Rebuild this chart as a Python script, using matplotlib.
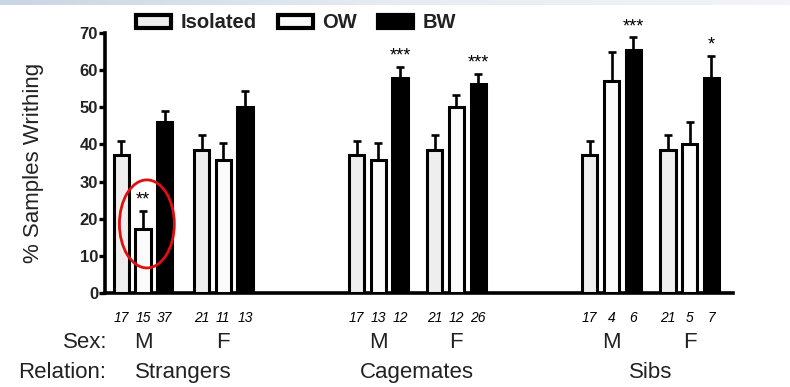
import matplotlib
matplotlib.use("Agg")
import matplotlib.pyplot as plt
import numpy as np
from matplotlib.patches import Ellipse
from matplotlib.colors import LinearSegmentedColormap

plt.rcParams['font.family'] = ['Liberation Sans', 'DejaVu Sans']

# ---- data ----
relations = ["Strangers", "Cagemates", "Sibs"]
sexes = ["M", "F", "M", "F", "M", "F"]
series = ["Isolated", "OW", "BW"]
iso_vals = [37.2, 38.5, 37.2, 38.5, 37.2, 38.5]
iso_err = [3.8, 4.1, 3.8, 4.1, 3.8, 4.1]
ow_vals = [17.2, 35.7, 35.7, 50.0, 57.0, 40.1]
ow_err = [5.0, 4.8, 4.8, 3.4, 7.9, 5.9]
bw_vals = [46.0, 50.0, 58.0, 56.3, 65.3, 58.0]
bw_err = [2.9, 4.5, 2.8, 2.7, 3.5, 5.9]
iso_n = [17, 21, 17, 21, 17, 21]
ow_n = [15, 11, 13, 12, 4, 5]
bw_n = [37, 13, 12, 26, 6, 7]
# significance marks: (group index, series index, label)
sig_marks = [(0, 1, "**"), (2, 2, "***"), (3, 2, "***"), (4, 2, "***"), (5, 2, "*")]
yticks = [0, 10, 20, 30, 40, 50, 60, 70]

# ---- layout ----
group_centers = np.array([0, 3.7, 10.85, 14.45, 21.6, 25.2])
offsets = [-1.0, 0.0, 1.0]
bar_w = 0.70
fills = ["#eeeeee", "#fbfbfb", "black"]

fig = plt.figure(figsize=(7.9, 3.87), dpi=100)
ax = fig.add_axes([105/790, 1-293/387, (733-105)/790, 260/387])

vals_all = [iso_vals, ow_vals, bw_vals]
errs_all = [iso_err, ow_err, bw_err]
ns_all = [iso_n, ow_n, bw_n]
containers = []
for k in range(3):
    xs = group_centers + offsets[k]
    c = ax.bar(xs, vals_all[k], width=bar_w, color=fills[k], edgecolor="black",
               linewidth=2.2, label=series[k], zorder=3)
    containers.append(c)
    ax.errorbar(xs, vals_all[k], yerr=[np.zeros(6), errs_all[k]], fmt="none",
                ecolor="black", elinewidth=1.9, capsize=3, capthick=1.9, zorder=2)

ax.set_xlim(-1.75, 27.2)
ax.set_ylim(0, 70)
ax.set_yticks(yticks)
ax.set_yticklabels([str(t) for t in yticks], fontsize=12, fontweight="bold",
                   color="#222222")
ax.set_xticks([])
for s in ["top", "right"]:
    ax.spines[s].set_visible(False)
for s in ["left", "bottom"]:
    ax.spines[s].set_linewidth(2.6)
ax.tick_params(axis="y", width=2.4, length=4, pad=1, direction="out")
ax.set_ylabel("% Samples Writhing", fontsize=16, color="#222222")
ax.yaxis.set_label_coords(-(105 - 44) / 628, 0.5)

# significance stars
for g, k, lab in sig_marks:
    x = group_centers[g] + offsets[k]
    y = vals_all[k][g] + errs_all[k][g]
    ax.text(x, y + 0.6, lab, ha="center", va="bottom", fontsize=13)

# red ellipse around Strangers M OW
ax.add_patch(Ellipse((group_centers[0] + 0.18, ow_vals[0] + 1.4), 2.53, 23.7,
                     fill=False, edgecolor="#e01010", linewidth=2.0, clip_on=False, zorder=5))

# n labels
trans = ax.get_xaxis_transform()
for k in range(3):
    for g in range(6):
        ax.text(group_centers[g] + offsets[k], -0.097, str(ns_all[k][g]),
                transform=trans, ha="center", va="center", fontsize=10, style="italic")

# sex and relation rows
for g in range(6):
    ax.text(group_centers[g], -0.19, sexes[g], transform=trans, ha="center",
            va="center", fontsize=16, color="#222222")
for r in range(3):
    ax.text((group_centers[2*r] + group_centers[2*r+1]) / 2, -0.305, relations[r],
            transform=trans, ha="center", va="center", fontsize=16, color="#222222")
fig.text(107/790, 1-343/387, "Sex:", ha="right", va="center", fontsize=16, color="#222222")
fig.text(106/790, 1-373/387, "Relation:", ha="right", va="center", fontsize=16, color="#222222")

# legend
leg = fig.legend(handles=containers, labels=series, loc="center",
                 bbox_to_anchor=(296/790, 1-23/387), ncol=3, frameon=False,
                 prop={"size": 14.5, "weight": "bold"}, handlelength=1.75, handleheight=0.62,
                 handletextpad=0.45, columnspacing=1.05, borderaxespad=0)
for t in leg.get_texts():
    t.set_color("#222222")
for h in leg.legend_handles:
    h.set_linewidth(3.0)

# top slide band
band = fig.add_axes([0, 1-5/387, 1, 5/387])
grad = np.linspace(0, 1, 256).reshape(1, -1)
cmap = LinearSegmentedColormap.from_list("b", ["#c9d6e3", "#e6ecf2", "#f2f4f7"])
band.imshow(grad, aspect="auto", cmap=cmap)
band.axis("off")

fig.savefig("out.png", dpi=100)
